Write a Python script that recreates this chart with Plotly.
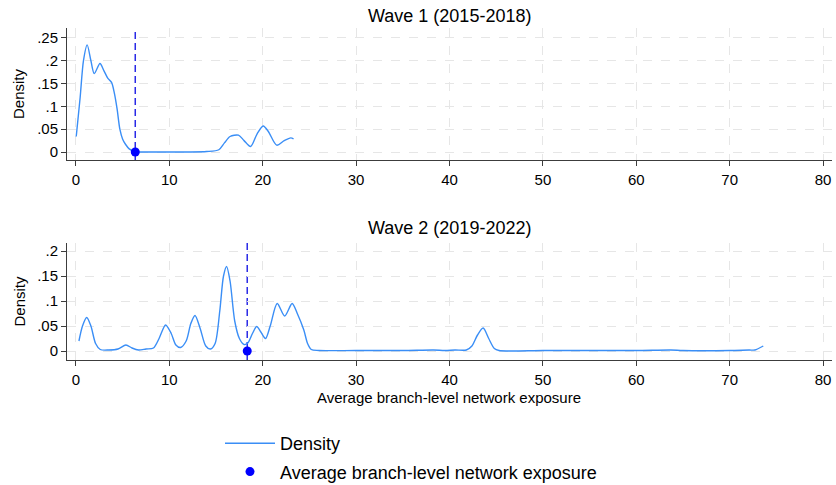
import plotly.graph_objects as go

# ---------------- data ----------------
wave1_x = [0.03, 0.45, 0.8, 1.2, 1.6, 1.96, 2.57, 3.0, 3.4, 3.82, 4.1, 4.4, 4.7, 5.0,
           5.3, 5.7, 6.3, 8.0, 10.0, 12.0, 14.0, 15.3, 15.9, 16.5, 17.4, 18.0, 18.7,
           19.4, 20.05, 20.6, 21.5, 22.3, 23.0, 23.3]
wave1_y = [0.034, 0.12, 0.2, 0.235, 0.2, 0.172, 0.194, 0.178, 0.162, 0.152, 0.13, 0.095,
           0.05, 0.028, 0.017, 0.007, 0.001, 0.0, 0.0, 0.0, 0.001, 0.005, 0.02, 0.034,
           0.037, 0.025, 0.012, 0.04, 0.057, 0.045, 0.015, 0.025, 0.031, 0.029]

wave2_x = [0.32, 0.7, 1.15, 1.6, 2.1, 2.6, 3.5, 4.5, 5.35, 6.0, 6.7, 7.5, 8.3, 8.9, 9.6,
           10.2, 10.7, 11.2, 11.8, 12.3, 12.75, 13.3, 13.9, 14.4, 14.9, 15.4, 15.8,
           16.13, 16.5, 17.0, 17.5, 18.0, 18.4, 18.9, 19.35, 19.8, 20.3, 20.8, 21.55,
           22.35, 23.15, 23.7, 24.4, 24.8, 25.2, 26.0, 30.0, 35.0, 38.3, 39.5, 40.6,
           41.8, 42.4, 43.0, 43.6, 44.2, 44.8, 45.3, 50.0, 55.0, 60.0, 63.7, 65.0,
           70.0, 72.1, 72.7, 73.6]
wave2_y = [0.02, 0.05, 0.067, 0.05, 0.015, 0.003, 0.002, 0.004, 0.012, 0.006, 0.002,
           0.004, 0.006, 0.025, 0.052, 0.035, 0.012, 0.007, 0.02, 0.055, 0.071, 0.045,
           0.01, 0.004, 0.015, 0.08, 0.15, 0.169, 0.14, 0.06, 0.025, 0.013, 0.016,
           0.035, 0.049, 0.038, 0.025, 0.05, 0.095, 0.07, 0.095, 0.075, 0.042, 0.015,
           0.003, 0.001, 0.001, 0.001, 0.002, 0.001, 0.002, 0.002, 0.01, 0.032, 0.046,
           0.025, 0.005, 0.001, 0.001, 0.001, 0.001, 0.002, 0.001, 0.001, 0.002, 0.002,
           0.01]

wave1_mean = 6.35
wave2_mean = 18.34

x_ticks = [0, 10, 20, 30, 40, 50, 60, 70, 80]
y1_ticks = [0, 0.05, 0.1, 0.15, 0.2, 0.25]
y1_labels = ["0", ".05", ".1", ".15", ".2", ".25"]
y2_ticks = [0, 0.05, 0.1, 0.15, 0.2]
y2_labels = ["0", ".05", ".1", ".15", ".2"]

titles = ["Wave 1 (2015-2018)", "Wave 2 (2019-2022)"]
x_title = "Average branch-level network exposure"
y_title = "Density"
legend_names = ["Density", "Average branch-level network exposure"]

# ---------------- styling ----------------
FONT = "Liberation Sans, Arial, Helvetica, sans-serif"
W, H = 836, 485
CURVE = "#3a8ef6"
DOT = "#0000ff"
VLINE = "#2a2ae6"
GRID = "#e6e6e6"
AXIS = "#3c3c3c"

fig = go.Figure()

fig.add_trace(go.Scatter(x=wave1_x, y=wave1_y, mode="lines", name=legend_names[0],
                         line=dict(color=CURVE, width=1.4, shape="spline", smoothing=0.8),
                         xaxis="x", yaxis="y", showlegend=True, legendgroup="a"))
fig.add_trace(go.Scatter(x=[wave1_mean], y=[0], mode="markers", name=legend_names[1],
                         marker=dict(color=DOT, size=9), xaxis="x", yaxis="y",
                         showlegend=True, legendgroup="b"))
fig.add_trace(go.Scatter(x=wave2_x, y=wave2_y, mode="lines", name=legend_names[0],
                         line=dict(color=CURVE, width=1.4, shape="spline", smoothing=0.8),
                         xaxis="x2", yaxis="y2", showlegend=False, legendgroup="a"))
fig.add_trace(go.Scatter(x=[wave2_mean], y=[0], mode="markers", name=legend_names[1],
                         marker=dict(color=DOT, size=9), xaxis="x2", yaxis="y2",
                         showlegend=False, legendgroup="b"))

# vertical dashed lines at means
for xr, yr, m in [("x", "y", wave1_mean), ("x2", "y2", wave2_mean)]:
    fig.add_shape(type="line", xref=xr, yref=yr + " domain", x0=m, x1=m, y0=0, y1=1,
                  line=dict(color=VLINE, width=1.5, dash="7px,4px"), layer="below")

def px_x(p):
    return p / W

def px_y(p):
    return 1 - p / H

xdom = [px_x(67), px_x(832)]
common_x = dict(range=[-0.96, 80.96], tickvals=x_ticks, ticks="outside", ticklen=5,
                tickcolor=AXIS, showline=True, linecolor=AXIS, linewidth=1,
                showgrid=True, gridcolor=GRID, griddash="dash", gridwidth=1,
                zeroline=False, tickfont=dict(size=15, color="black", family=FONT),
                automargin=False, domain=xdom, ticklabelstandoff=1)
common_y = dict(ticks="outside", ticklen=5, tickcolor=AXIS, showline=True,
                linecolor=AXIS, linewidth=1, showgrid=True, gridcolor=GRID,
                griddash="dash", gridwidth=1, zeroline=False,
                tickfont=dict(size=15, color="black", family=FONT), automargin=False)

fig.update_layout(
    width=W, height=H,
    margin=dict(l=0, r=0, t=0, b=0, autoexpand=False),
    paper_bgcolor="white", plot_bgcolor="white",
    font=dict(family=FONT, color="black"),
    xaxis=dict(**common_x, anchor="y"),
    yaxis=dict(**common_y, anchor="x", range=[-0.0175, 0.2719], tickvals=y1_ticks,
               ticktext=y1_labels, domain=[px_y(160), px_y(28)]),
    xaxis2=dict(**common_x, anchor="y2"),
    yaxis2=dict(**common_y, anchor="x2", range=[-0.018, 0.216], tickvals=y2_ticks,
                ticktext=y2_labels, domain=[px_y(360), px_y(243)]),
    legend=dict(x=px_x(220), y=px_y(425), xanchor="left", yanchor="top",
                font=dict(size=18, family=FONT, color="black"), itemwidth=50,
                bgcolor="rgba(0,0,0,0)", tracegroupgap=2),
    showlegend=True,
)

annotations = [
    dict(text=titles[0], x=px_x(449.5), y=px_y(16)),
    dict(text=titles[1], x=px_x(449.5), y=px_y(228)),
]
for a in annotations:
    a.update(xref="paper", yref="paper", showarrow=False, xanchor="center",
             yanchor="middle", font=dict(size=18, family=FONT, color="black"))
    fig.add_annotation(**a)

for yc in [94, 301.5]:
    fig.add_annotation(text=y_title, x=px_x(19), y=px_y(yc), xref="paper", yref="paper",
                       showarrow=False, textangle=-90, xanchor="center", yanchor="middle",
                       font=dict(size=15, family=FONT, color="black"))

fig.add_annotation(text=x_title, x=px_x(449.5), y=px_y(397), xref="paper", yref="paper",
                   showarrow=False, xanchor="center", yanchor="middle",
                   font=dict(size=15, family=FONT, color="black"))

fig.write_html("out.html")
